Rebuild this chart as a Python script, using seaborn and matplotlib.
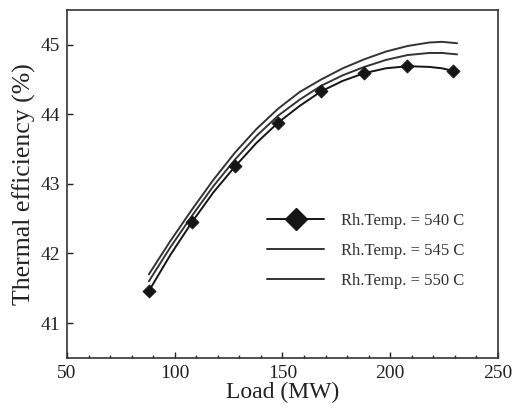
import matplotlib
matplotlib.use("Agg")
import matplotlib.pyplot as plt
from matplotlib.lines import Line2D
import seaborn as sns
from matplotlib.ticker import MultipleLocator

# measured points (Rh.Temp. = 540 C)
load_pts = [88, 108, 128, 148, 168, 188, 208, 229]
eff_540_pts = [41.46, 42.45, 43.25, 43.88, 44.33, 44.59, 44.69, 44.62]

# fitted curves read along the load axis
load_curve = [88, 98, 108, 118, 128, 138, 148, 158, 168, 178, 188, 198, 208, 218, 224, 231]
eff_540 = [41.46, 41.98, 42.45, 42.88, 43.25, 43.59, 43.88, 44.12, 44.33, 44.48, 44.59, 44.66, 44.69, 44.68, 44.66, 44.61]
eff_545 = [41.60, 42.09, 42.54, 42.97, 43.35, 43.69, 43.98, 44.21, 44.41, 44.56, 44.68, 44.78, 44.85, 44.88, 44.88, 44.86]
eff_550 = [41.70, 42.18, 42.63, 43.06, 43.45, 43.79, 44.08, 44.32, 44.50, 44.66, 44.79, 44.90, 44.98, 45.03, 45.04, 45.02]
labels = ["Rh.Temp. = 540 C", "Rh.Temp. = 545 C", "Rh.Temp. = 550 C"]

sns.set_theme(style="ticks")
plt.rcParams['font.family'] = ['Liberation Serif', 'DejaVu Serif']

fig = plt.figure(figsize=(5.15, 4.09), dpi=100)
ax = fig.add_axes([0.130, 0.125, 0.837, 0.851])

c540 = "#151515"
col = "#333333"
sns.lineplot(x=load_curve, y=eff_540, ax=ax, color=c540, lw=1.4)
sns.lineplot(x=load_curve, y=eff_545, ax=ax, color=col, lw=1.4)
sns.lineplot(x=load_curve, y=eff_550, ax=ax, color=col, lw=1.4)
sns.scatterplot(x=load_pts, y=eff_540_pts, ax=ax, marker="D", s=45,
                color=c540, edgecolor=c540, linewidth=0.5, zorder=5)

ax.set_xlim(50, 250)
ax.set_ylim(40.5, 45.5)
ax.xaxis.set_major_locator(MultipleLocator(50))
ax.xaxis.set_minor_locator(MultipleLocator(10))
ax.yaxis.set_major_locator(MultipleLocator(1))
ax.tick_params(axis='both', which='major', direction='in', length=4, width=1,
               labelsize=14, colors="#222222", pad=5)
ax.tick_params(axis='x', which='minor', direction='in', length=2.5, width=1)
for s in ax.spines.values():
    s.set_color("#333333")
    s.set_linewidth(1.2)

ax.set_xlabel("Load (MW)", fontsize=17, color="#222222", labelpad=0)
ax.set_ylabel("Thermal efficiency (%)", fontsize=18.5, color="#222222", labelpad=3)

handles = [
    Line2D([], [], color=c540, lw=1.4, marker="D", markersize=11),
    Line2D([], [], color=col, lw=1.4),
    Line2D([], [], color=col, lw=1.4),
]
leg = ax.legend(handles, labels, loc="upper left", bbox_to_anchor=(0.43, 0.46),
                frameon=False, fontsize=12, handlelength=3.4, handletextpad=1.0,
                labelspacing=0.85)
for t in leg.get_texts():
    t.set_color("#333333")

fig.savefig("out.png", dpi=100)
